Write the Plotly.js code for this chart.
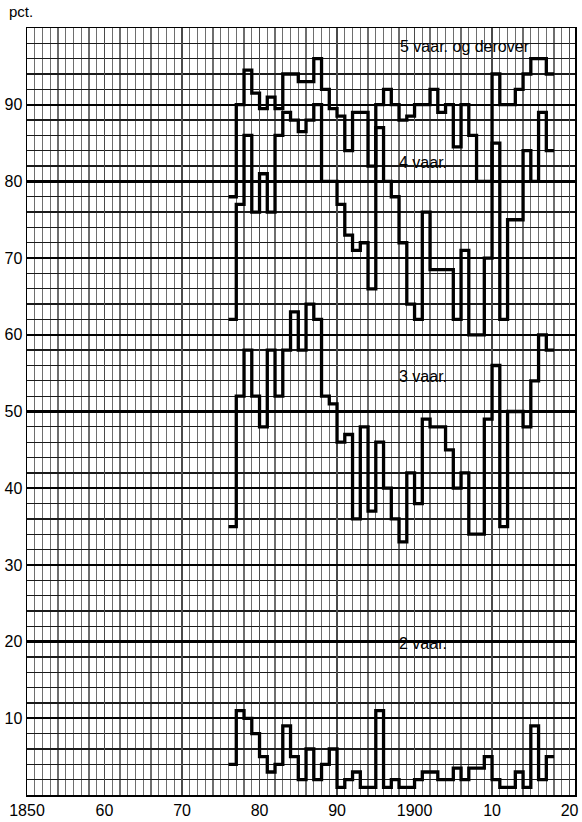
<!DOCTYPE html>
<html>
<head>
<meta charset="utf-8">
<script src="https://cdn.plot.ly/plotly-3.0.1.min.js"></script>
<style>
html,body{margin:0;padding:0;background:#fff;}
#chart{width:582px;height:822px;}
</style>
</head>
<body>
<div id="chart"></div>
<script>
// Years covered by the step series
const years = [1876,1877,1878,1879,1880,1881,1882,1883,1884,1885,1886,1887,1888,1889,1890,1891,1892,1893,1894,1895,1896,1897,1898,1899,1900,1901,1902,1903,1904,1905,1906,1907,1908,1909,1910,1911,1912,1913,1914,1915,1916,1917];

// pct. per series
const vaar5 = [78,90,94.5,91.5,89.5,91,89.5,94,94,93,93,96,92,89.5,88.5,84,89,89,82,90,92,90,88,88.5,90,90,92,89,90,84.5,90,86,80,80,94,90,90,92,94,96,96,94];
const vaar4 = [62,77,86,76,81,76,86,89,88,86.5,88,90,80,80,77,73,71,72,66,87,80,78,72,64,62,76,68.5,68.5,68.5,62,71,60,60,70,85,62,75,75,84,80,89,84];
const vaar3 = [35,52,58,52,48,58,52,58,63,58,64,62,52,51,46,47,36,48,37,46,40,36,33,42,38,49,48,48,45,40,42,34,34,49,56,35,50,50,48,54,60,58];
const vaar2 = [4,11,10,8,5,3,4,9,5,2,6,2,4,6,1,2,3,1,1,11,1,2,1,1,2,3,3,2,2,3.5,2,3.5,3.5,5,2,1,1,3,1,9,2,5];

const seriesNames = ['5 vaar. og derover','4 vaar.','3 vaar.','2 vaar.'];
const seriesData = [vaar5, vaar4, vaar3, vaar2];

// axis labels
const xTickVals = [1850,1860,1870,1880,1890,1900,1910,1920];
const xTickText = ['1850','60','70','80','90','1900','10','20'];
const yTickVals = [10,20,30,40,50,60,70,80,90];
const yTickText = ['10','20','30','40','50','60','70','80','90'];

// label anchor points (data coords)
const labelX = [1897.9,1897.7,1897.7,1897.7];
const labelY = [97.6,82.5,54.6,19.8];

function stepTrace(vals, name){
  const xs = years.concat([years[years.length-1]+1]);
  const ys = vals.concat([vals[vals.length-1]]);
  return {x: xs, y: ys, name: name, type:'scatter', mode:'lines',
    line:{shape:'hv', color:'#000', width:3.3}, hoverinfo:'skip', showlegend:false};
}

const traces = seriesData.map((v,i)=>stepTrace(v, seriesNames[i]));

const fam = '"Liberation Sans", Arial, Helvetica, sans-serif';
const font = {family:fam, size:16, color:'#000'};

const annotations = seriesNames.map((n,i)=>({
  x: labelX[i], y: labelY[i], xref:'x', yref:'y', text:n, showarrow:false,
  xanchor:'left', yanchor:'middle', font:{family:fam, size:16, color:'#000'}
}));
annotations.push({x:-0.036, y:1.021, xref:'paper', yref:'paper', text:'pct.', showarrow:false,
  xanchor:'left', yanchor:'middle', font:{family:fam, size:15, color:'#000'}});

const layout = {
  width:582, height:822,
  margin:{l:27, r:7, t:28, b:27, pad:0},
  paper_bgcolor:'#fff', plot_bgcolor:'#fff',
  showlegend:false,
  font: font,
  xaxis:{
    range:[1850,1920.7], tickmode:'array', tickvals:xTickVals, ticktext:xTickText,
    ticks:'', 
    showgrid:true, gridcolor:'#4a4a4a', gridwidth:1.4,
    minor:{dtick:1, tick0:1850, showgrid:true, gridcolor:'#6e6e6e', gridwidth:1.3, ticks:''},
    zeroline:false, showline:true, mirror:true, linecolor:'#000', linewidth:1.5,
    tickfont:font, fixedrange:true
  },
  yaxis:{
    range:[0,100], tickmode:'array', tickvals:yTickVals, ticktext:yTickText,
    ticks:'', showgrid:true, gridcolor:'#000', gridwidth:2.2,
    minor:{dtick:2, tick0:0, showgrid:true, gridcolor:'#1a1a1a', gridwidth:1.3, ticks:''},
    zeroline:false, showline:true, mirror:true, linecolor:'#000', linewidth:1.5,
    tickfont:font, fixedrange:true
  },
  annotations: annotations
};

Plotly.newPlot('chart', traces, layout, {displayModeBar:false, staticPlot:true});
</script>
</body>
</html>
